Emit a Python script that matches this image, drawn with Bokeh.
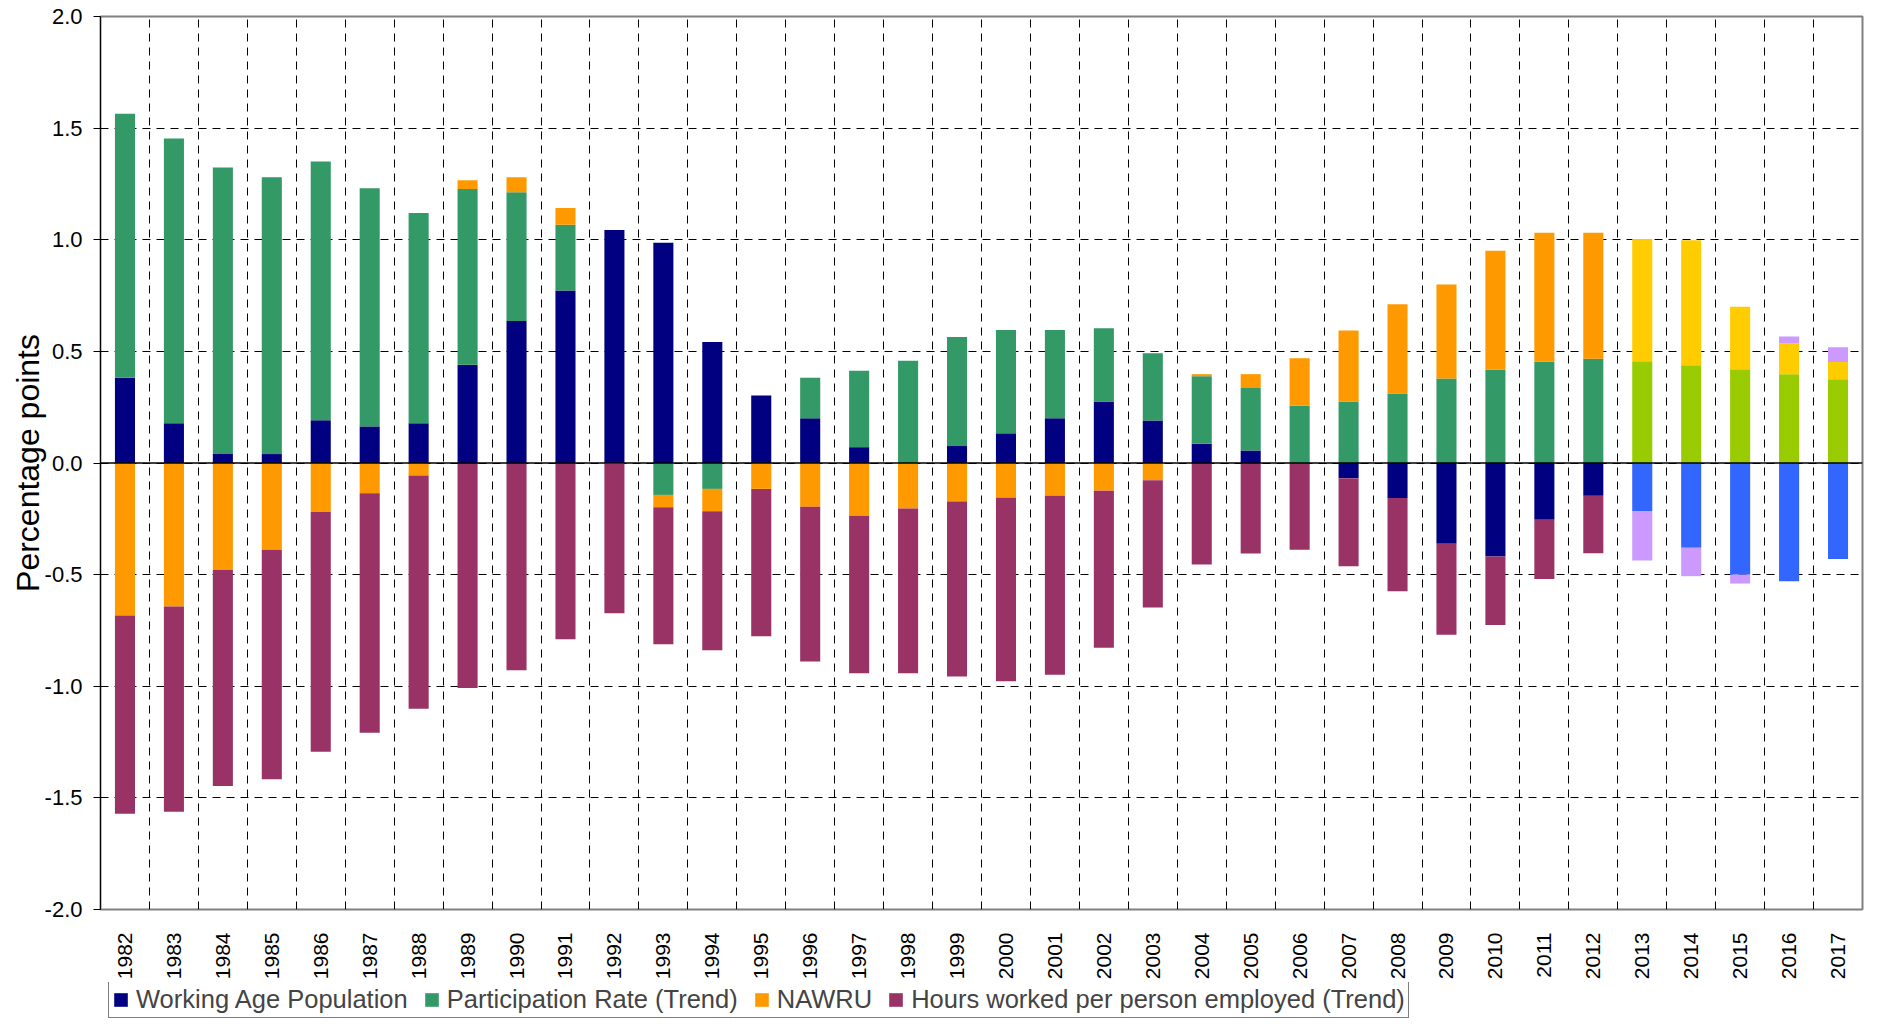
import numpy as np
from bokeh.plotting import figure
from bokeh.layouts import column
from bokeh.models import (Range1d, FixedTicker, PrintfTickFormatter, Span,
                          Legend, LegendItem, ColumnDataSource)
from bokeh.embed import file_html
from bokeh.resources import INLINE

# ---------------- data ----------------
years = list(range(1982, 2018))
first_forecast_year = 2013

wap = [0.382, 0.178, 0.040, 0.040, 0.191, 0.164, 0.178, 0.440, 0.636, 0.773,
       1.044, 0.987, 0.542, 0.302, 0.200, 0.071, 0.000, 0.076, 0.133, 0.200,
       0.275, 0.190, 0.087, 0.056, 0.000, -0.068, -0.157, -0.362, -0.419, -0.254,
       -0.147, -0.215, -0.380, -0.500, -0.530, -0.430]
part = [1.182, 1.275, 1.284, 1.240, 1.160, 1.067, 0.942, 0.787, 0.577, 0.294,
        0.000, -0.143, -0.116, 0.000, 0.182, 0.342, 0.458, 0.488, 0.463, 0.396,
        0.329, 0.302, 0.302, 0.280, 0.256, 0.274, 0.311, 0.378, 0.418, 0.453,
        0.467, 0.456, 0.438, 0.420, 0.397, 0.375]
nawru = [-0.683, -0.643, -0.478, -0.389, -0.220, -0.136, -0.056, 0.040, 0.067, 0.075,
         -0.005, -0.055, -0.100, -0.116, -0.196, -0.236, -0.204, -0.173, -0.156, -0.147,
         -0.124, -0.077, 0.009, 0.062, 0.213, 0.320, 0.400, 0.422, 0.533, 0.578,
         0.564, 0.547, 0.560, 0.280, 0.138, 0.077]
hours = [-0.888, -0.919, -0.969, -1.028, -1.073, -1.072, -1.045, -1.008, -0.928, -0.790,
         -0.668, -0.614, -0.623, -0.660, -0.693, -0.706, -0.738, -0.783, -0.822, -0.802,
         -0.703, -0.570, -0.455, -0.405, -0.389, -0.395, -0.418, -0.407, -0.307, -0.266,
         -0.257, -0.222, -0.127, -0.040, 0.032, 0.066]

series_names = ["Working Age Population", "Participation Rate (Trend)", "NAWRU",
                "Hours worked per person employed (Trend)"]
series_values = [wap, part, nawru, hours]
hist_colors = ["#000080", "#339966", "#FF9900", "#993366"]
forecast_colors = ["#3366FF", "#99CC00", "#FFCC00", "#CC99FF"]

y_ticks = [-2.0, -1.5, -1.0, -0.5, 0.0, 0.5, 1.0, 1.5, 2.0]

FONT = "Liberation Sans"

# ---------------- main figure ----------------
x_range = Range1d(years[0] - 0.5, years[-1] + 0.5)
p = figure(width=1864, height=982, output_backend="svg", toolbar_location=None,
           x_range=x_range, y_range=Range1d(-2.0, 2.0),
           min_border_left=100, min_border_right=2, min_border_top=16,
           min_border_bottom=67)
p.background_fill_color = "white"
p.border_fill_color = "white"
p.outline_line_color = "#808080"
p.outline_line_width = 2

# stacked bars (separate positive / negative stacks)
pos_base = [0.0] * len(years)
neg_base = [0.0] * len(years)
sources = []
for vals, hc, fc in zip(series_values, hist_colors, forecast_colors):
    tops, bottoms, cols = [], [], []
    for i, v in enumerate(vals):
        if v >= 0:
            bottoms.append(pos_base[i]); tops.append(pos_base[i] + v)
            pos_base[i] += v
        else:
            tops.append(neg_base[i]); bottoms.append(neg_base[i] + v)
            neg_base[i] += v
        cols.append(fc if years[i] >= first_forecast_year else hc)
    src = ColumnDataSource(dict(x=years, top=tops, bottom=bottoms, color=cols))
    sources.append(src)
    p.vbar(x="x", top="top", bottom="bottom", width=0.41, source=src,
           fill_color="color", line_color=None)

p.add_layout(Span(location=0, dimension="width", line_color="black", line_width=1.5))

# grids
p.xgrid.ticker = FixedTicker(ticks=[y + 0.5 for y in years[:-1]])
p.xgrid.grid_line_color = "black"
p.xgrid.grid_line_dash = "8 6"
p.xgrid.grid_line_width = 1
p.ygrid.ticker = FixedTicker(ticks=y_ticks)
p.ygrid.grid_line_color = "black"
p.ygrid.grid_line_dash = "8 6"
p.ygrid.grid_line_width = 1

# axes
p.xaxis.ticker = FixedTicker(ticks=years)
p.xaxis.major_label_orientation = np.pi / 2
p.xaxis.major_label_text_font = FONT
p.xaxis.major_label_text_font_size = "21px"
p.xaxis.major_label_text_color = "black"
p.xaxis.major_tick_line_color = None
p.xaxis.minor_tick_line_color = None
p.xaxis.axis_line_color = None
p.xaxis.major_label_standoff = 17

p.yaxis.ticker = FixedTicker(ticks=y_ticks)
p.yaxis.formatter = PrintfTickFormatter(format="%.1f")
p.yaxis.major_label_text_font = FONT
p.yaxis.major_label_text_font_size = "22px"
p.yaxis.major_label_text_color = "black"
p.yaxis.axis_line_color = "black"
p.yaxis.axis_line_width = 1
p.yaxis.major_tick_line_color = "black"
p.yaxis.major_tick_out = 7
p.yaxis.major_tick_in = 0
p.yaxis.minor_tick_line_color = None
p.yaxis.major_label_standoff = 11
p.yaxis.axis_label = "Percentage points"
p.yaxis.axis_label_text_font = FONT
p.yaxis.axis_label_text_font_size = "32px"
p.yaxis.axis_label_text_font_style = "normal"
p.yaxis.axis_label_text_color = "black"
p.yaxis.axis_label_standoff = -4

# ---------------- legend strip ----------------
# same x range as the chart; y range far above the data, so the swatch
# renderers (sharing the real data) are not visible in the strip
lf = figure(width=1864, height=36, output_backend="svg", toolbar_location=None,
            x_range=x_range, y_range=Range1d(10, 11),
            x_axis_location=None, y_axis_location=None,
            min_border_left=100, min_border_right=2, min_border_top=0,
            min_border_bottom=0)
lf.outline_line_color = None
lf.grid.visible = False
lf.background_fill_color = "white"
lf.border_fill_color = "white"

swatches = []
for src in sources:
    swatches.append(lf.vbar(x="x", top="top", bottom="bottom", width=0.41,
                            source=src, fill_color="color", line_color=None))

items = [LegendItem(label=n, renderers=[r], index=0) for n, r in zip(series_names, swatches)]
legend = Legend(items=items, orientation="horizontal", location=(8, 0),
                border_line_color="black", border_line_width=1,
                background_fill_color="white", background_fill_alpha=1.0,
                label_text_font=FONT, label_text_font_size="25.5px",
                glyph_width=17, glyph_height=17, label_standoff=7,
                spacing=15, padding=3, margin=0, label_height=20)
lf.add_layout(legend, "center")

layout = column(p, lf, spacing=0)
open("out.html", "w").write(file_html(layout, INLINE))
